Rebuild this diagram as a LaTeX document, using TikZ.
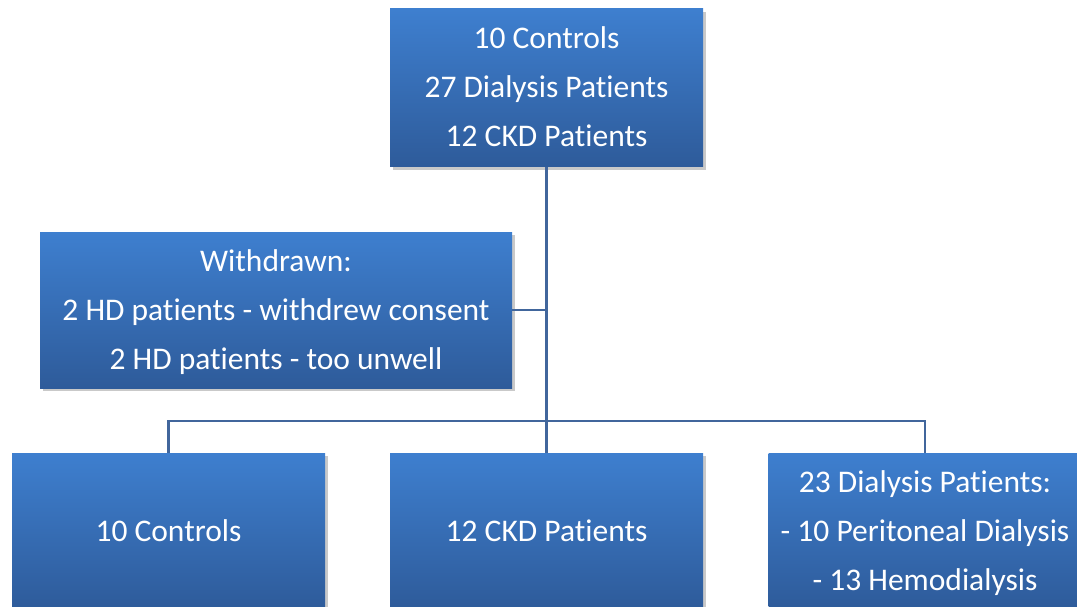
\documentclass[tikz,border=0pt]{standalone}
\usepackage{fontspec}
\setmainfont[Ligatures=CommonOff]{Carlito}
\usetikzlibrary{shadows}
\definecolor{boxtop}{HTML}{3E7FCF}
\definecolor{boxbot}{HTML}{2E5B9A}
\definecolor{linkc}{HTML}{41669C}
\newcommand{\tln}[1]{\smash{#1}\rule{0pt}{20pt}}
\tikzset{
  bluebox/.style={rectangle, inner sep=0pt, top color=boxtop, bottom color=boxbot,
    draw=none, text=white, align=center,
    font={\fontsize{31.5}{49}\selectfont},
    drop shadow={shadow xshift=2.5pt, shadow yshift=-3pt, opacity=0.3, fill=black!70}},
  link/.style={draw=linkc, line width=2.3pt}
}
\begin{document}
\begin{tikzpicture}[x=1pt,y=-1pt]
\useasboundingbox (0,0) rectangle (1077,607);
\node[bluebox, minimum width=313pt, minimum height=158pt] (top) at (546.5,88)
  {\tln{10 Controls}\\\tln{27 Dialysis Patients}\\\tln{12 CKD Patients}};
\node[bluebox, minimum width=472pt, minimum height=156pt] (wd) at (276,310)
  {\tln{Withdrawn:}\\\tln{2 HD patients - withdrew consent}\\\tln{2 HD patients - too unwell}};
\node[bluebox, minimum width=313pt, minimum height=156pt] (c1) at (168.5,531)
  {\tln{10 Controls}};
\node[bluebox, minimum width=313pt, minimum height=156pt] (c2) at (546.5,531)
  {\tln{12 CKD Patients}};
\node[bluebox, minimum width=313pt, minimum height=156pt] (c3) at (925,531)
  {\tln{23 Dialysis Patients:}\\\tln{- 10 Peritoneal Dialysis}\\\tln{- 13 Hemodialysis}};
\coordinate (j) at (546.5,421);
\draw[link] (top.south) -- (j);
\draw[link] (wd.east) -- (wd.east -| top.south);
\draw[link] (c1.north) |- (j) -| (c3.north);
\draw[link] (j) -- (c2.north);
\end{tikzpicture}
\end{document}
